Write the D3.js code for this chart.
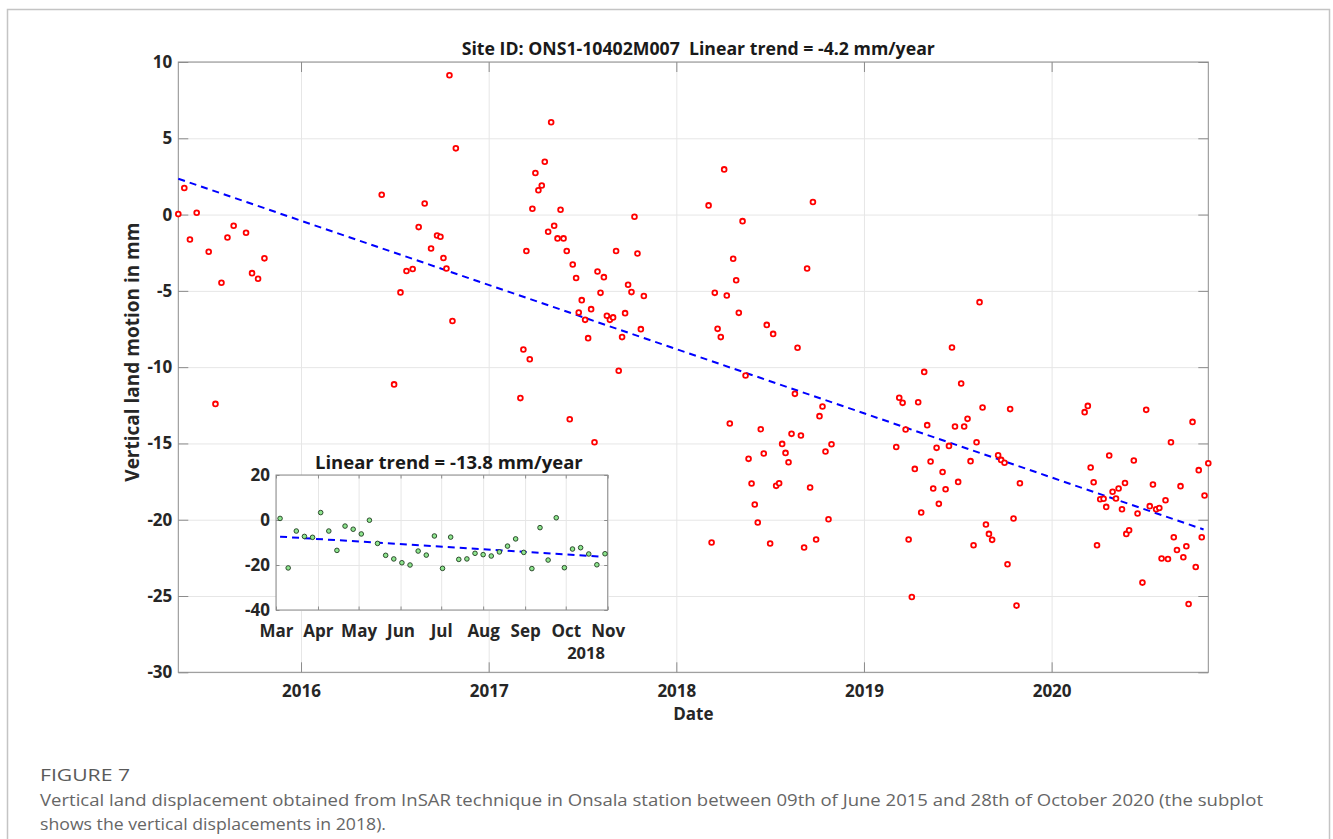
<!DOCTYPE html>
<html>
<head>
<meta charset="utf-8">
<script src="https://cdn.jsdelivr.net/npm/d3@7"></script>
<style>
  body { margin: 0; background: #fff; }
  text { font-family: "Open Sans", "Noto Sans", sans-serif; }
  .axis text { font-weight: 700; fill: #262626; font-size: 17px; }
  .axis path, .axis line { stroke: #8c8c8c; }
  .grid line { stroke: #e6e6e6; }
  .grid path { display: none; }
</style>
</head>
<body>
<script>
// --- main series: decimal year / vertical motion (mm)
const mainYears = [
  2015.346, 2015.378, 2015.408, 2015.444, 2015.508, 2015.544, 2015.576, 2015.608, 2015.641, 2015.707,
  2015.739, 2015.771, 2015.805,
  2016.430, 2016.496, 2016.530, 2016.562, 2016.595, 2016.627, 2016.659, 2016.693, 2016.725, 2016.743,
  2016.759, 2016.775, 2016.791, 2016.807, 2016.825,
  2017.169, 2017.185, 2017.201, 2017.219, 2017.233, 2017.249, 2017.265, 2017.283, 2017.299, 2017.317,
  2017.333, 2017.349, 2017.367, 2017.383, 2017.399, 2017.416, 2017.432, 2017.448, 2017.466, 2017.480,
  2017.496, 2017.514, 2017.530, 2017.546, 2017.564, 2017.580, 2017.596, 2017.614, 2017.630, 2017.646,
  2017.663, 2017.679, 2017.693, 2017.711, 2017.727, 2017.743, 2017.761, 2017.777, 2017.793, 2017.811,
  2017.827,
  2018.172, 2018.188, 2018.205, 2018.220, 2018.237, 2018.255, 2018.269, 2018.285, 2018.303, 2018.319,
  2018.333, 2018.353, 2018.369, 2018.385, 2018.401, 2018.418, 2018.434, 2018.450, 2018.466, 2018.482,
  2018.500, 2018.516, 2018.532, 2018.548, 2018.564, 2018.582, 2018.598, 2018.614, 2018.632, 2018.646,
  2018.664, 2018.681, 2018.697, 2018.713, 2018.728, 2018.745, 2018.763, 2018.779, 2018.795, 2018.811,
  2018.827,
  2019.172, 2019.188, 2019.206, 2019.222, 2019.238, 2019.255, 2019.271, 2019.289, 2019.305, 2019.321,
  2019.337, 2019.355, 2019.369, 2019.387, 2019.399, 2019.419, 2019.435, 2019.453, 2019.469, 2019.485,
  2019.502, 2019.518, 2019.534, 2019.552, 2019.568, 2019.584, 2019.600, 2019.616, 2019.632, 2019.650,
  2019.666, 2019.683, 2019.715, 2019.731, 2019.749, 2019.765, 2019.779, 2019.797, 2019.813, 2019.831,
  2020.176, 2020.193, 2020.208, 2020.224, 2020.242, 2020.259, 2020.277, 2020.291, 2020.307, 2020.325,
  2020.343, 2020.357, 2020.375, 2020.391, 2020.398, 2020.413, 2020.438, 2020.458, 2020.484, 2020.504,
  2020.523, 2020.540, 2020.557, 2020.574, 2020.586, 2020.607, 2020.620, 2020.636, 2020.651, 2020.668,
  2020.687, 2020.702, 2020.718, 2020.730, 2020.751, 2020.768, 2020.784, 2020.800, 2020.815, 2020.835
];
const mainValues = [
  0.03, 1.74, -1.63, 0.12, -2.44, -12.41, -4.47, -1.50, -0.73, -1.19,
  -3.84, -4.21, -2.87,
  1.30, -11.13, -5.10, -3.70, -3.57, -0.82, 0.73, -2.22, -1.37, -1.45,
  -2.85, -3.53, 9.13, -6.98, 4.34,
  -12.03, -8.84, -2.39, -9.48, 0.38, 2.72, 1.59, 1.91, 3.46, -1.13,
  6.05, -0.73, -1.56, 0.32, -1.56, -2.39, -13.41, -3.27, -4.16, -6.42,
  -5.61, -6.90, -8.10, -6.20, -14.92, -3.73, -5.13, -4.10, -6.63, -6.90,
  -6.74, -2.39, -10.24, -8.03, -6.46, -4.60, -5.08, -0.14, -2.55, -7.51,
  -5.34,
  0.60, -21.49, -5.13, -7.49, -8.03, 2.96, -5.30, -13.69, -2.90, -4.30,
  -6.44, -0.43, -10.55, -16.01, -17.63, -19.00, -20.18, -14.07, -15.66, -7.23,
  -21.56, -7.82, -17.78, -17.61, -15.03, -15.62, -16.23, -14.37, -11.75, -8.73,
  -14.48, -21.82, -3.53, -17.89, 0.82, -21.30, -13.21, -12.58, -15.53, -19.97,
  -15.05,
  -15.23, -12.01, -12.34, -14.09, -21.30, -25.06, -16.67, -12.30, -19.53, -10.31,
  -13.80, -16.18, -17.95, -15.29, -18.96, -16.87, -18.00, -15.16, -8.71, -13.89,
  -17.52, -11.07, -13.89, -13.39, -16.16, -21.67, -14.92, -5.74, -12.64, -20.31,
  -20.93, -21.32, -15.77, -16.08, -16.27, -22.92, -12.75, -19.92, -25.63, -17.61,
  -12.95, -12.54, -16.58, -17.54, -21.67, -18.66, -18.63, -19.16, -15.79, -18.17,
  -18.61, -17.95, -19.31, -17.59, -20.93, -20.69, -16.12, -19.59, -24.12, -12.80,
  -19.11, -17.69, -19.31, -19.23, -22.54, -18.72, -22.57, -14.92, -21.15, -21.98,
  -17.80, -22.46, -21.74, -25.52, -13.59, -23.10, -16.75, -21.15, -18.41, -16.30
];
const mainTrendYears = [2015.346, 2020.810];
const mainTrendValues = [2.35, -20.64];
const mainYearTicks = [2016, 2017, 2018, 2019, 2020];
const mainValueTicks = [10, 5, 0, -5, -10, -15, -20, -25, -30];

// --- inset: 2018 only
const insetDates = [
  "2018-03-04", "2018-03-10", "2018-03-16", "2018-03-22", "2018-03-28",
  "2018-04-03", "2018-04-09", "2018-04-15", "2018-04-21", "2018-04-27",
  "2018-05-03", "2018-05-09", "2018-05-15", "2018-05-21", "2018-05-27",
  "2018-06-02", "2018-06-08", "2018-06-14", "2018-06-20", "2018-06-26",
  "2018-07-02", "2018-07-08", "2018-07-14", "2018-07-20", "2018-07-26",
  "2018-08-01", "2018-08-07", "2018-08-13", "2018-08-19", "2018-08-25", "2018-08-31",
  "2018-09-06", "2018-09-12", "2018-09-18", "2018-09-24", "2018-09-30",
  "2018-10-06", "2018-10-12", "2018-10-18", "2018-10-24", "2018-10-30"
];
const insetValues = [
  0.7, -21.3, -4.9, -7.3, -7.7,
  3.3, -4.9, -13.5, -2.7, -4.1,
  -6.2, -0.1, -10.4, -15.7, -17.3,
  -19.0, -20.0, -13.8, -15.6, -7.1,
  -21.5, -7.6, -17.5, -17.3, -14.8,
  -15.4, -16.0, -14.2, -11.6, -8.4, -14.4,
  -21.6, -3.4, -17.8, 1.0, -21.2,
  -12.9, -12.3, -15.1, -19.9, -15.0
];
const insetTrendDates = ["2018-03-04", "2018-10-28"];
const insetTrendValues = [-7.4, -16.3];
const insetMonthTicks = ["2018-03-01", "2018-04-01", "2018-05-01", "2018-06-01", "2018-07-01",
  "2018-08-01", "2018-09-01", "2018-10-01", "2018-11-01"];
const insetValueTicks = [20, 0, -20, -40];

const W = 1333, H = 839;
const svg = d3.select("body").append("svg")
  .attr("width", W).attr("height", H);

// card border
svg.append("rect")
  .attr("x", 7.5).attr("y", 9.5).attr("width", 1322).attr("height", 850)
  .attr("fill", "none").attr("stroke", "#c4c4c4").attr("stroke-width", 1.5);

const plain = d => String(d); // MATLAB style hyphen minus

// ---------- main axes ----------
const m = { left: 178.3, top: 62, width: 1030, height: 610.3 };
const g = svg.append("g").attr("transform", `translate(${m.left},${m.top})`);

const x = d3.scaleLinear().domain([2015.346, 2020.835]).range([0, m.width]);
const y = d3.scaleLinear().domain([-30, 10]).range([m.height, 0]);

// gridlines
g.append("g").attr("class", "grid")
  .attr("transform", `translate(0,${m.height})`)
  .call(d3.axisBottom(x).tickValues(mainYearTicks).tickSize(-m.height).tickFormat(""));
g.append("g").attr("class", "grid")
  .call(d3.axisLeft(y).tickValues(mainValueTicks).tickSize(-m.width).tickFormat(""));

// box + ticks on all sides (inward)
g.append("rect").attr("width", m.width).attr("height", m.height)
  .attr("fill", "none").attr("stroke", "#8c8c8c");
g.append("g").attr("class", "axis")
  .attr("transform", `translate(0,${m.height})`)
  .call(d3.axisBottom(x).tickValues(mainYearTicks).tickSize(-10).tickPadding(13).tickFormat(plain))
  .call(a => a.select(".domain").remove());
g.append("g").attr("class", "axis")
  .call(d3.axisTop(x).tickValues(mainYearTicks).tickSize(-10).tickFormat(""))
  .call(a => a.select(".domain").remove());
g.append("g").attr("class", "axis")
  .call(d3.axisLeft(y).tickValues(mainValueTicks).tickSize(-10).tickPadding(6).tickFormat(plain))
  .call(a => a.select(".domain").remove());
g.append("g").attr("class", "axis")
  .attr("transform", `translate(${m.width},0)`)
  .call(d3.axisRight(y).tickValues(mainValueTicks).tickSize(-10).tickFormat(""))
  .call(a => a.select(".domain").remove());

// trend line
const mainTrend = mainTrendYears.map((t, i) => [t, mainTrendValues[i]]);
g.append("path")
  .datum(mainTrend)
  .attr("d", d3.line().x(d => x(d[0])).y(d => y(d[1])))
  .attr("fill", "none").attr("stroke", "#0000ff").attr("stroke-width", 2)
  .attr("stroke-dasharray", "7,5");

// red points
const mainData = mainYears.map((t, i) => ({ t: t, v: mainValues[i] }));
g.selectAll(".pt")
  .data(mainData)
  .enter().append("circle")
  .attr("class", "pt")
  .attr("cx", d => x(d.t))
  .attr("cy", d => y(d.v))
  .attr("r", 2.4)
  .attr("fill", "#fff")
  .attr("stroke", "#ff0000")
  .attr("stroke-width", 1.8);

// titles
svg.append("text")
  .attr("x", m.left + m.width / 2 + 5).attr("y", 55)
  .attr("text-anchor", "middle")
  .style("font-weight", 700).style("font-size", "17.7px").style("fill", "#1a1a1a")
  .attr("xml:space", "preserve")
  .text("Site ID: ONS1-10402M007  Linear trend = -4.2 mm/year");

svg.append("text")
  .attr("x", m.left + m.width / 2).attr("y", 720)
  .attr("text-anchor", "middle")
  .style("font-weight", 700).style("font-size", "17px").style("fill", "#262626")
  .text("Date");

svg.append("text")
  .attr("transform", `translate(139,${m.top + m.height / 2 - 15}) rotate(-90)`)
  .attr("text-anchor", "middle")
  .style("font-weight", 700).style("font-size", "19px").style("fill", "#262626")
  .text("Vertical land motion in mm");

// ---------- inset ----------
const ins = { left: 276, top: 475, width: 331.7, height: 135 };
const gi = svg.append("g").attr("transform", `translate(${ins.left},${ins.top})`);
const parse = d3.timeParse("%Y-%m-%d");

const xi = d3.scaleTime().domain([parse("2018-03-01"), parse("2018-11-01")]).range([0, ins.width]);
const yi = d3.scaleLinear().domain([-40, 20]).range([ins.height, 0]);
const monthTicks = insetMonthTicks.map(parse);

gi.append("rect").attr("width", ins.width).attr("height", ins.height).attr("fill", "#fff");
gi.append("g").attr("class", "grid")
  .attr("transform", `translate(0,${ins.height})`)
  .call(d3.axisBottom(xi).tickValues(monthTicks).tickSize(-ins.height).tickFormat(""));
gi.append("g").attr("class", "grid")
  .call(d3.axisLeft(yi).tickValues(insetValueTicks).tickSize(-ins.width).tickFormat(""));

gi.append("rect").attr("width", ins.width).attr("height", ins.height)
  .attr("fill", "none").attr("stroke", "#8c8c8c");
gi.append("g").attr("class", "axis")
  .attr("transform", `translate(0,${ins.height})`)
  .call(d3.axisBottom(xi).tickValues(monthTicks).tickSize(-3.5).tickPadding(15).tickFormat(d3.timeFormat("%b")))
  .call(a => a.select(".domain").remove());
gi.append("g").attr("class", "axis")
  .call(d3.axisTop(xi).tickValues(monthTicks).tickSize(-3.5).tickFormat(""))
  .call(a => a.select(".domain").remove());
gi.append("g").attr("class", "axis")
  .call(d3.axisLeft(yi).tickValues(insetValueTicks).tickSize(-3.5).tickPadding(6).tickFormat(plain))
  .call(a => a.select(".domain").remove());
gi.append("g").attr("class", "axis")
  .attr("transform", `translate(${ins.width},0)`)
  .call(d3.axisRight(yi).tickValues(insetValueTicks).tickSize(-3.5).tickFormat(""))
  .call(a => a.select(".domain").remove());

gi.append("text")
  .attr("x", xi(parse("2018-10-16"))).attr("y", ins.height + 49)
  .attr("text-anchor", "middle")
  .style("font-weight", 700).style("font-size", "16.5px").style("fill", "#262626")
  .text("2018");

const insetTrend = insetTrendDates.map((d, i) => [parse(d), insetTrendValues[i]]);
gi.append("path")
  .datum(insetTrend)
  .attr("d", d3.line().x(d => xi(d[0])).y(d => yi(d[1])))
  .attr("fill", "none").attr("stroke", "#0000ff").attr("stroke-width", 2)
  .attr("stroke-dasharray", "7,5");

const insetData = insetDates.map((d, i) => ({ d: parse(d), v: insetValues[i] }));
gi.selectAll(".ipt")
  .data(insetData)
  .enter().append("circle")
  .attr("class", "ipt")
  .attr("cx", d => xi(d.d))
  .attr("cy", d => yi(d.v))
  .attr("r", 2.3)
  .attr("fill", "#8ee58e")
  .attr("stroke", "#1e3a1e")
  .attr("stroke-width", 0.9);

svg.append("text")
  .attr("x", ins.left + ins.width / 2 + 7).attr("y", 469)
  .attr("text-anchor", "middle")
  .style("font-weight", 700).style("font-size", "18.5px").style("fill", "#1a1a1a")
  .text("Linear trend = -13.8 mm/year");

// ---------- caption ----------
svg.append("text")
  .attr("x", 40).attr("y", 781)
  .attr("textLength", 90).attr("lengthAdjust", "spacingAndGlyphs")
  .style("font-size", "17px").style("fill", "#5a5a5a")
  .text("FIGURE 7");
const captionLines = [
  "Vertical land displacement obtained from InSAR technique in Onsala station between 09th of June 2015 and 28th of October 2020 (the subplot",
  "shows the vertical displacements in 2018)."
];
const captionWidths = [1223, 346];
svg.selectAll(".cap")
  .data(captionLines)
  .enter().append("text")
  .attr("class", "cap")
  .attr("x", 40)
  .attr("y", (d, i) => 806 + i * 24)
  .attr("textLength", (d, i) => captionWidths[i])
  .attr("lengthAdjust", "spacingAndGlyphs")
  .style("font-size", "17px").style("fill", "#666")
  .text(d => d);
</script>
</body>
</html>
